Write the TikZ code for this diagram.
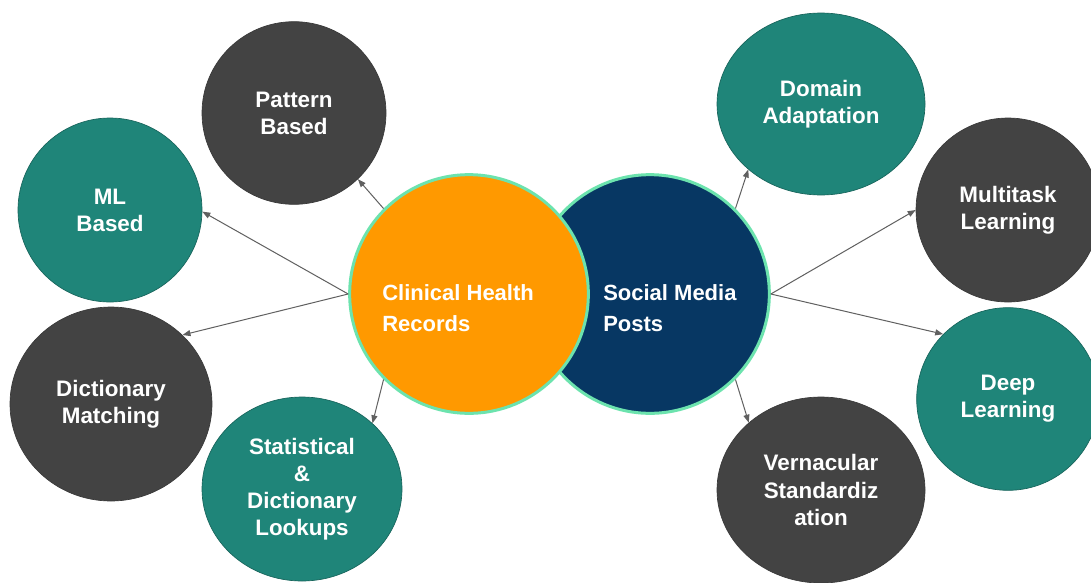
\documentclass[tikz,border=0pt]{standalone}
\usepackage{fontspec}
\setmainfont{Liberation Sans}
\usetikzlibrary{arrows.meta,shapes.geometric}
\definecolor{chrfill}{HTML}{FF9900}
\definecolor{smpfill}{HTML}{073763}
\definecolor{rim}{HTML}{6CE3AE}
\definecolor{seagreen}{HTML}{1F8579}
\definecolor{slate}{HTML}{434343}
\definecolor{linkgray}{HTML}{606060}

\begin{document}
\begin{tikzpicture}[x=0.75pt,y=-0.75pt,
    every node/.style={font=\bfseries\fontsize{16.8}{20.3}\selectfont, text=white, align=center},
    bubble/.style={ellipse, inner sep=0pt, line width=0.5pt},
    darkbubble/.style={bubble, fill=slate, draw=slate!85!black},
    tealbubble/.style={bubble, fill=seagreen, draw=seagreen!75!black},
    hub/.style={circle, draw=rim, line width=2.25pt, minimum size=179pt, inner sep=0pt},
    hubtext/.style={anchor=west, align=left, inner sep=0pt, font=\bfseries\fontsize{16.5}{23.3}\selectfont},
    link/.style={draw=linkgray, line width=0.75pt, -{Triangle[length=6pt,width=4.5pt]}}]
    \path[use as bounding box, fill=white] (0,0) rectangle (1091,582);
    % Methods for clinical health records (left)
    \node[darkbubble, minimum width=138pt, minimum height=137pt] (pattern) at (294,113) {Pattern\\Based};
    \node[tealbubble, minimum width=138pt, minimum height=138pt] (ml) at (110,210) {ML\\Based};
    \node[darkbubble, minimum width=151.5pt, minimum height=145.5pt] (dict) at (111,404) {Dictionary\\Matching};
    \node[tealbubble, minimum width=150pt, minimum height=138pt] (stat) at (302,489) {Statistical\\\&\\Dictionary\\Lookups};
    % Methods for social media posts (right)
    \node[tealbubble, minimum width=156pt, minimum height=136.5pt] (domain) at (821,104) {Domain\\Adaptation};
    \node[darkbubble, minimum width=138pt, minimum height=138pt] (multi) at (1008,210) {Multitask\\Learning};
    \node[tealbubble, minimum width=137pt, minimum height=137pt] (deep) at (1008,399) {Deep\\Learning};
    \node[darkbubble, minimum width=156pt, minimum height=139.5pt] (vern) at (821,490) {Vernacular\\Standardiz\\ation};
    % The two sources, orange on top
    \node[hub, fill=smpfill] (smp) at (650,294) {};
    \node[hub, fill=chrfill] (chr) at (469,294) {};
    \node[hubtext] (chr-label) at (382,308) {Clinical Health\\Records};
    \node[hubtext] (smp-label) at (603,308) {Social Media\\Posts};
    % Links
    \draw[link] (chr.135) -- (pattern.-46);
    \draw[link] (chr.west) -- (ml.-1);
    \draw[link] (chr.west) -- (dict.44);
    \draw[link] (chr.225) -- (stat.43);
    \draw[link] (smp.45) -- (domain.222);
    \draw[link] (smp.east) -- (multi.west);
    \draw[link] (smp.east) -- (deep.135);
    \draw[link] (smp.-45) -- (vern.137);
\end{tikzpicture}
\end{document}
